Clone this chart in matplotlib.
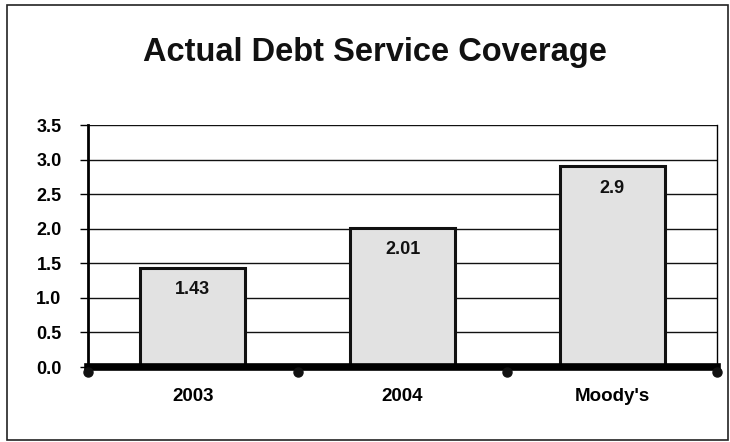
import matplotlib
matplotlib.use("Agg")
import matplotlib.pyplot as plt
from matplotlib.patches import Rectangle
import numpy as np

plt.rcParams['font.family'] = ['Liberation Sans', 'DejaVu Sans']

categories = ["2003", "2004", "Moody's"]
values = [1.43, 2.01, 2.9]
value_labels = ["1.43", "2.01", "2.9"]
yticks = [0.0, 0.5, 1.0, 1.5, 2.0, 2.5, 3.0, 3.5]
title = "Actual Debt Service Coverage"

W, H = 730, 442
fig = plt.figure(figsize=(W / 100, H / 100), dpi=100)
fig.patch.set_facecolor('white')

# outer frame
fig.add_artist(Rectangle((7 / W, 1 - 440 / H), 721 / W, 435 / H, transform=fig.transFigure,
                         fill=False, edgecolor='#222222', linewidth=1.2))

ax = fig.add_axes([88 / W, 1 - 367 / H, (717 - 88) / W, (367 - 125) / H])
x = np.arange(len(categories))
ax.set_xlim(-0.5, len(categories) - 0.5)
ax.set_ylim(0, 3.5)

for yv in yticks[1:]:
    ax.axhline(yv, color='#111111', linewidth=1.0, zorder=1)

bars = ax.bar(x, values, width=0.5, color='#e2e2e2', edgecolor='#111111', linewidth=2.2, zorder=2)
for xi, v, lab in zip(x, values, value_labels):
    ax.text(xi, v - 0.19, lab, ha='center', va='top', fontsize=13, fontweight='bold', color='#111111', zorder=3)

ax.set_yticks(yticks)
ax.set_yticklabels([f"{t:.1f}" for t in yticks], fontsize=13, fontweight='bold')
ax.set_xticks(x)
ax.set_xticklabels(categories, fontsize=13.5, fontweight='bold')
ax.tick_params(axis='x', length=0, pad=15)
ax.tick_params(axis='y', length=6, width=1.0, pad=13, direction='out')

ax.spines['top'].set_visible(False)
ax.spines['left'].set_linewidth(2.0)
ax.spines['right'].set_linewidth(1.0)
ax.spines['bottom'].set_linewidth(5.5)
ax.spines['bottom'].set_zorder(4)

# boundary tick dots under the axis
bx = np.arange(len(categories) + 1) - 0.5
ax.plot(bx, np.full_like(bx, -0.07), linestyle='none', marker='o', markersize=6.5, color='#111111',
        clip_on=False, zorder=5)

fig.text(375 / W, 1 - 52 / H, title, ha='center', va='center', fontsize=23.5, fontweight='bold', color='#111111')

fig.savefig('out.png', dpi=100, facecolor='white')
